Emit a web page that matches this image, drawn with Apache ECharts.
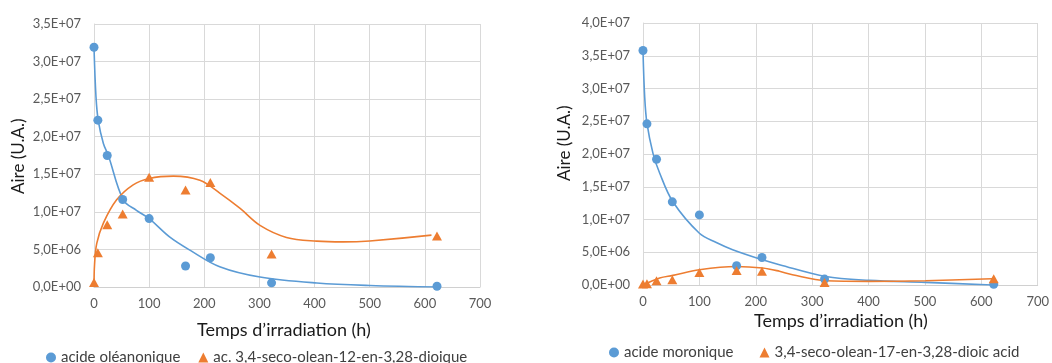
<!DOCTYPE html>
<html>
<head>
<meta charset="utf-8">
<script src="https://cdn.jsdelivr.net/npm/echarts@6/dist/echarts.min.js"></script>
<style>html,body{margin:0;padding:0;background:#fff}#c{width:1052px;height:363px}</style>
</head>
<body>
<div id="c"></div>
<script>
// Measured times (h)
const times = [0, 7, 24, 52, 100, 166, 211, 322, 622];
// Left chart: acide oléanonique and its dioic product
const oleanonique = [3.19e7, 2.22e7, 1.75e7, 1.165e7, 9.1e6, 2.8e6, 3.9e6, 5.5e5, 1e5];
const secoOlean12 = [6e5, 4.55e6, 8.3e6, 9.7e6, 1.46e7, 1.29e7, 1.39e7, 4.4e6, 6.8e6];
// Right chart: acide moronique and its dioic product
const moronique = [3.58e7, 2.46e7, 1.92e7, 1.27e7, 1.07e7, 2.94e6, 4.2e6, 9e5, 1e5];
const secoOlean17 = [1.5e5, 2e5, 6.5e5, 8e5, 1.9e6, 2.2e6, 2.1e6, 4e5, 9.5e5];

// Trend curves (x in h, y in units of 1e7)
const fitOleanX = [0, 3.6, 7.8, 17, 26, 53, 77, 100, 137, 174, 228, 301, 404, 500, 627];
const fitOleanY = [3.19, 2.53, 2.21, 1.91, 1.75, 1.16, 1.02, 0.91, 0.667, 0.49, 0.27, 0.133, 0.053, 0.02, 0];
const fitSeco12X = [0, 1, 5, 17, 41, 71, 100, 144, 192, 228, 265, 301, 349, 404, 452, 500, 612];
const fitSeco12Y = [0, 0.3, 0.58, 0.85, 1.16, 1.36, 1.445, 1.476, 1.42, 1.25, 1.045, 0.82, 0.66, 0.61, 0.6, 0.613, 0.69];
const fitMoronX = [0, 3, 7, 17.7, 29.5, 53, 100, 130, 159, 212, 242, 324, 401, 501, 619];
const fitMoronY = [3.57, 2.87, 2.47, 2.01, 1.71, 1.27, 0.79, 0.65, 0.54, 0.385, 0.31, 0.13, 0.07, 0.04, 0];
const fitSeco17X = [0, 29.5, 53, 100, 165, 212, 242, 265, 324, 401, 501, 619];
const fitSeco17Y = [0, 0.107, 0.147, 0.233, 0.283, 0.26, 0.21, 0.157, 0.065, 0.055, 0.065, 0.096];

const namesLeft = ['acide oléanonique', 'ac. 3,4-seco-olean-12-en-3,28-dioique'];
const namesRight = ['acide moronique', '3,4-seco-olean-17-en-3,28-dioic acid'];
const xTitle = 'Temps d’irradiation (h)';
const yTitle = 'Aire (U.A.)';

const BLUE = '#5B9BD5', ORANGE = '#ED7D31';
const FONT = 'Lato, "Open Sans", sans-serif';

function sci(v) {
  if (v === 0) return '0,0E+00';
  const e = Math.floor(Math.log10(v) + 1e-9);
  const m = v / Math.pow(10, e);
  return m.toFixed(1).replace('.', ',') + 'E+' + String(e).padStart(2, '0');
}
const pairs = (xs, ys, k) => xs.map((x, i) => [x, ys[i] * (k || 1)]);

function xAxis(gi) {
  return {
    type: 'value', gridIndex: gi, min: 0, max: 700, interval: 100,
    axisLine: { show: true, lineStyle: { color: '#D0D0D0' } },
    axisTick: { show: false },
    splitLine: { show: true, lineStyle: { color: '#D9D9D9' } },
    axisLabel: { color: '#595959', fontSize: 13, fontFamily: FONT, margin: 10 }
  };
}
function yAxis(gi, max) {
  return {
    type: 'value', gridIndex: gi, min: 0, max: max, interval: 5e6,
    axisLine: { show: true, lineStyle: { color: '#D9D9D9' } },
    axisTick: { show: false },
    splitLine: { show: true, lineStyle: { color: '#D9D9D9' } },
    axisLabel: { color: '#595959', fontSize: 13, fontFamily: FONT, margin: 13, formatter: sci }
  };
}
function scatter(name, gi, data, sym, color, size) {
  return { type: 'scatter', name: name, xAxisIndex: gi, yAxisIndex: gi, data: pairs(times, data),
    symbol: sym, symbolSize: size, itemStyle: { color: color, opacity: 1 }, z: 5 };
}
function curve(gi, xs, ys, color) {
  return { type: 'line', name: 'fit' + gi + color, xAxisIndex: gi, yAxisIndex: gi, data: pairs(xs, ys, 1e7),
    smooth: 0.35, showSymbol: false, symbol: 'none',
    lineStyle: { color: color, width: 1.6 }, z: 3, silent: true };
}

const chart = echarts.init(document.getElementById('c'), null, { renderer: 'canvas' });
chart.setOption({
  animation: false,
  backgroundColor: '#fff',
  grid: [
    { left: 94, right: 572, top: 24, bottom: 76 },
    { left: 643, right: 13, top: 23, bottom: 78 }
  ],
  xAxis: [xAxis(0), xAxis(1)],
  yAxis: [yAxis(0, 3.5e7), yAxis(1, 4e7)],
  legend: [
    { data: [{ name: namesLeft[0], icon: 'circle' }, { name: namesLeft[1], icon: 'triangle' }],
      left: 41, top: 345, itemWidth: 10, itemHeight: 10, itemGap: 18,
      textStyle: { color: '#404040', fontSize: 15, fontFamily: FONT } },
    { data: [{ name: namesRight[0], icon: 'circle' }, { name: namesRight[1], icon: 'triangle' }],
      left: 604, top: 340, itemWidth: 10, itemHeight: 10, itemGap: 26,
      textStyle: { color: '#404040', fontSize: 15, fontFamily: FONT } }
  ],
  graphic: [
    { type: 'text', left: 197, top: 321, style: { text: xTitle, fill: '#1a1a1a', font: '18px ' + FONT } },
    { type: 'text', left: 754, top: 312, style: { text: xTitle, fill: '#1a1a1a', font: '18px ' + FONT } },
    { type: 'text', x: 10, y: 194, rotation: Math.PI / 2, style: { text: yTitle, fill: '#1a1a1a', font: '17px ' + FONT } },
    { type: 'text', x: 556, y: 181, rotation: Math.PI / 2, style: { text: yTitle, fill: '#1a1a1a', font: '17px ' + FONT } }
  ],
  series: [
    curve(0, fitOleanX, fitOleanY, BLUE),
    curve(0, fitSeco12X, fitSeco12Y, ORANGE),
    scatter(namesLeft[0], 0, oleanonique, 'circle', BLUE, 9),
    scatter(namesLeft[1], 0, secoOlean12, 'triangle', ORANGE, [10, 9]),
    curve(1, fitMoronX, fitMoronY, BLUE),
    curve(1, fitSeco17X, fitSeco17Y, ORANGE),
    scatter(namesRight[0], 1, moronique, 'circle', BLUE, 9),
    scatter(namesRight[1], 1, secoOlean17, 'triangle', ORANGE, [10, 9])
  ]
});
</script>
</body>
</html>
